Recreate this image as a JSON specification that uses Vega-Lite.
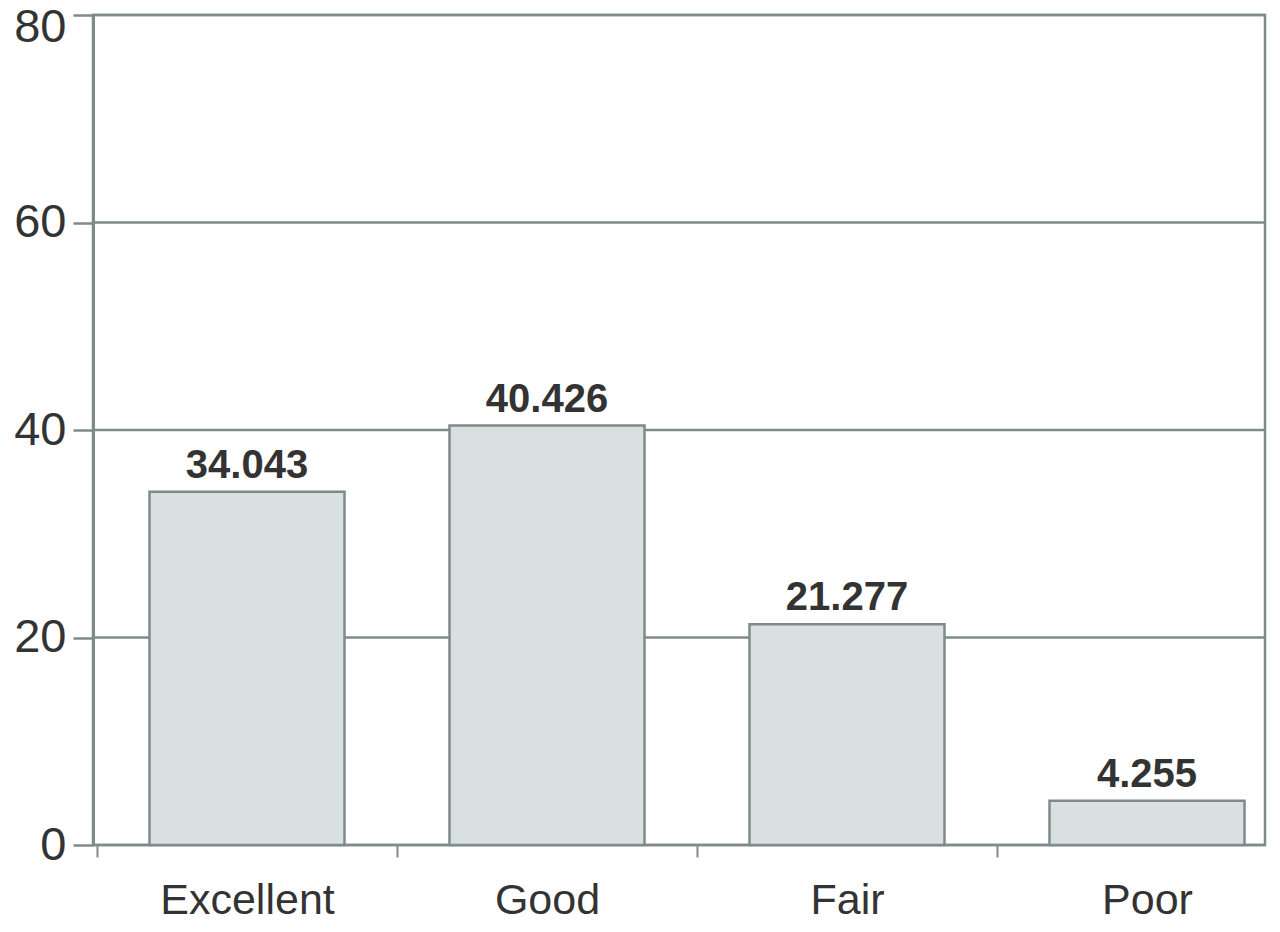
{
  "$schema": "https://vega.github.io/schema/vega-lite/v6.json",
  "width": 1172,
  "height": 830,
  "autosize": {"type": "none"},
  "padding": {"left": 93, "top": 15, "right": 15, "bottom": 87},
  "background": "white",
  "config": {
    "view": {"stroke": "#7f8a8a", "strokeWidth": 2.5},
    "font": "Liberation Sans"
  },
  "datasets": {
    "bars": [
      {"rating": "Excellent", "value": 34.043},
      {"rating": "Good", "value": 40.426},
      {"rating": "Fair", "value": 21.277},
      {"rating": "Poor", "value": 4.255}
    ],
    "grid": [
      {"g": 0}, {"g": 20}, {"g": 40}, {"g": 60}, {"g": 80}
    ]
  },
  "layer": [
    {
      "data": {"name": "grid"},
      "mark": {"type": "rule", "color": "#7f8a8a", "strokeWidth": 2.5},
      "encoding": {
        "y": {
          "field": "g",
          "type": "quantitative",
          "scale": {"domain": [0, 80], "nice": false},
          "axis": {
            "title": null,
            "values": [0, 20, 40, 60, 80],
            "labelFontSize": 47,
            "labelColor": "#333333",
            "labelPadding": 7,
            "labelOffset": {"condition": {"test": "datum.value === 80", "value": 12}, "value": 0},
            "tickSize": 20,
            "tickColor": "#7f8a8a",
            "tickWidth": 2.5,
            "domainColor": "#7f8a8a",
            "domainWidth": 3,
            "grid": false
          }
        }
      }
    },
    {
      "data": {"name": "bars"},
      "encoding": {
        "x": {
          "field": "rating",
          "type": "nominal",
          "sort": null,
          "scale": {"paddingInner": 0, "paddingOuter": 0, "range": [4, 1204]},
          "axis": {
            "title": null,
            "labelAngle": 0,
            "labelFontSize": 43,
            "labelColor": "#333333",
            "labelPadding": 22,
            "tickBand": "extent",
            "tickSize": 12,
            "tickColor": "#7f8a8a",
            "tickWidth": 2,
            "domain": false,
            "grid": false
          }
        },
        "y": {"field": "value", "type": "quantitative"}
      },
      "layer": [
        {
          "mark": {"type": "bar", "width": {"band": 0.65}, "fill": "#d9e0e0", "stroke": "#7f8a8a", "strokeWidth": 2.5}
        },
        {
          "mark": {"type": "text", "baseline": "alphabetic", "dy": -14, "fontSize": 40, "fontWeight": "bold", "color": "#333333"},
          "encoding": {
            "text": {"field": "value", "type": "quantitative", "format": ".3f"}
          }
        }
      ]
    }
  ]
}
